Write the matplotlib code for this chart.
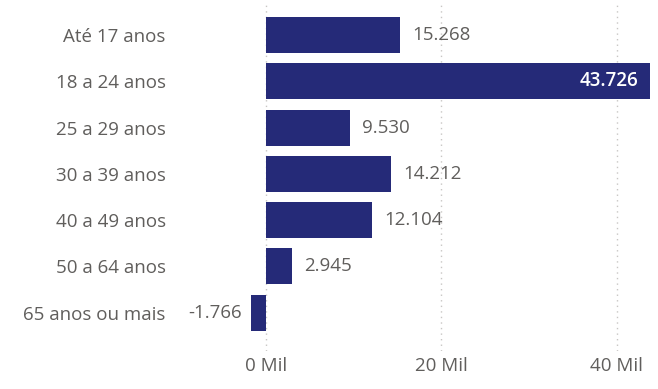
import matplotlib.pyplot as plt

plt.rcParams["font.family"] = ["Open Sans", "DejaVu Sans"]

# Data
categories = ["Até 17 anos", "18 a 24 anos", "25 a 29 anos", "30 a 39 anos",
              "40 a 49 anos", "50 a 64 anos", "65 anos ou mais"]
values = [15268, 43726, 9530, 14212, 12104, 2945, -1766]
xticks = [0, 20000, 40000]
xtick_labels = ["0 Mil", "20 Mil", "40 Mil"]

bar_color = "#252A78"
text_color = "#605E5C"
fs = 13.5


def fmt(v):
    return f"{v:,}".replace(",", ".")


fig = plt.figure(figsize=(6.58, 3.89), dpi=100)
ax = fig.add_axes([245 / 658, (389 - 351) / 389, (652 - 245) / 658, (351 - 5) / 389])

y = list(range(len(categories)))
ax.barh(y, values, height=0.78, color=bar_color, zorder=2)

ax.set_xlim(-2400, 44000)
ax.set_ylim(6.83, -0.65)

ax.set_yticks(y)
ax.set_yticklabels(categories, fontsize=fs, color=text_color)
ax.tick_params(axis="y", length=0, pad=57)
ax.set_xticks(xticks)
ax.set_xticklabels(xtick_labels, fontsize=fs, color=text_color)
ax.tick_params(axis="x", length=0, pad=4)

ax.grid(axis="x", linestyle=(0, (1, 3)), color="#C8C6C4", linewidth=1, zorder=0)
for s in ax.spines.values():
    s.set_visible(False)

xmax = ax.get_xlim()[1]
for yi, v in zip(y, values):
    label = fmt(v)
    if v < 0:
        ax.annotate(label, (v, yi), xytext=(-6, 0), textcoords="offset points",
                    ha="right", va="center", fontsize=fs, color=text_color)
    elif v > 0.9 * xmax:
        ax.annotate(label, (v, yi), xytext=(-8, 0), textcoords="offset points",
                    ha="right", va="center", fontsize=fs, color="white",
                    fontweight="semibold")
    else:
        ax.annotate(label, (v, yi), xytext=(9, 0), textcoords="offset points",
                    ha="left", va="center", fontsize=fs, color=text_color)

fig.savefig("out.png", dpi=100)
